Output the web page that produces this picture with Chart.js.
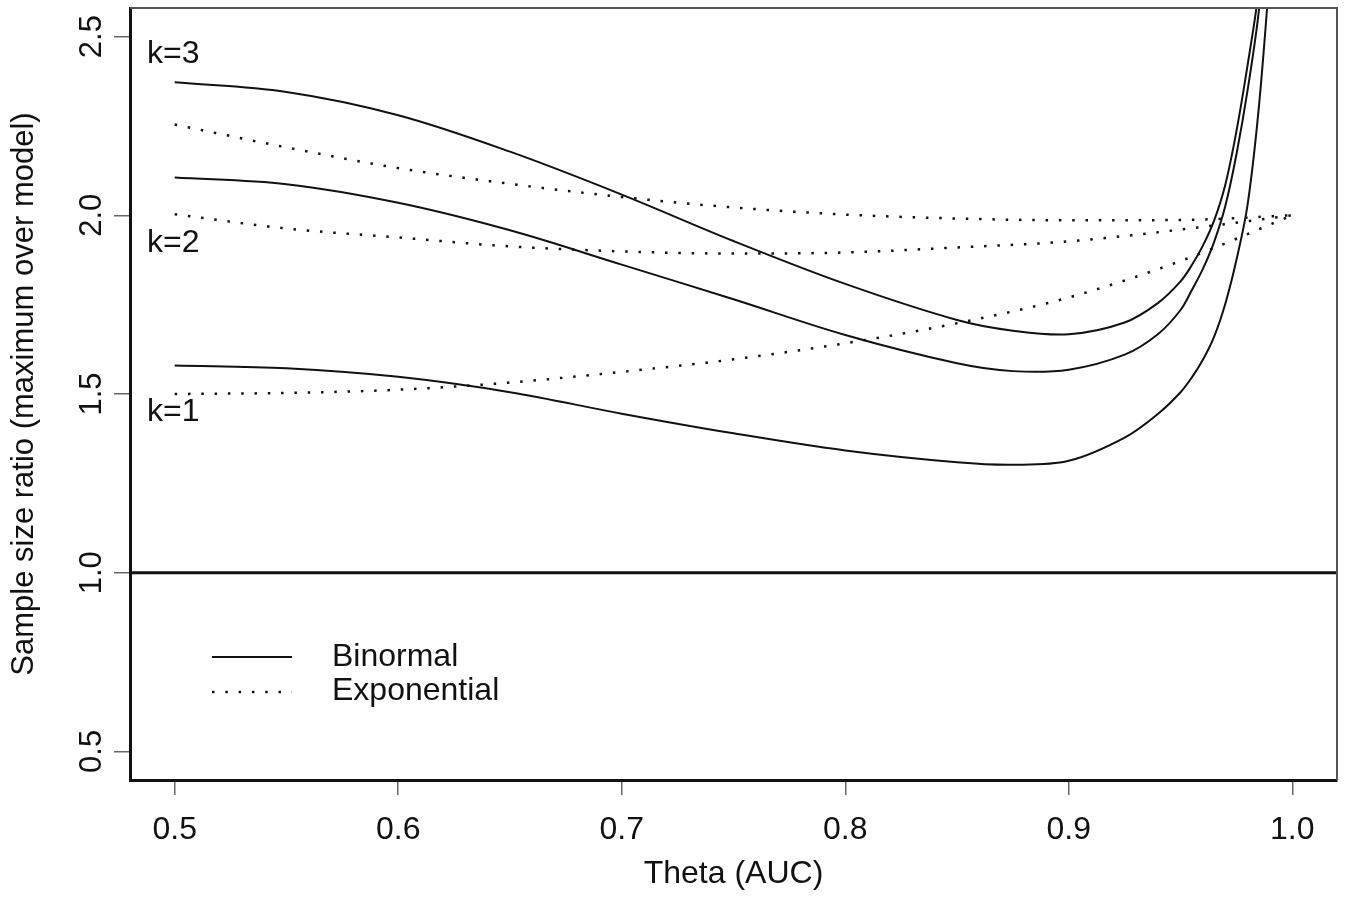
<!DOCTYPE html>
<html>
<head>
<meta charset="utf-8">
<script src="https://cdn.jsdelivr.net/npm/chart.js@4/dist/chart.umd.min.js"></script>
<style>
  html, body { margin: 0; padding: 0; background: #fff; }
  #wrap { width: 1347px; height: 908px; }
</style>
</head>
<body>
<div id="wrap"><canvas id="ratioChart"></canvas></div>
<script>
// Theta (AUC) grid used for the binormal curves
const thetaBinormal = [0.50, 0.55, 0.60, 0.65, 0.70, 0.75, 0.80, 0.85, 0.875, 0.90,
                       0.925, 0.94, 0.95, 0.955, 0.96, 0.965, 0.97, 0.975, 0.98, 0.985, 0.99];
const binormalK3 = [2.372, 2.345, 2.280, 2.178, 2.058, 1.928, 1.808, 1.707, 1.677, 1.667,
                    1.700, 1.755, 1.815, 1.860, 1.915, 1.985, 2.085, 2.235, 2.420, 2.630, 2.950];
const binormalK2 = [2.106, 2.087, 2.035, 1.958, 1.862, 1.765, 1.665, 1.586, 1.564, 1.568,
                    1.610, 1.668, 1.735, 1.790, 1.850, 1.925, 2.025, 2.170, 2.350, 2.570, 2.900];
const binormalK1 = [1.580, 1.572, 1.548, 1.505, 1.445, 1.390, 1.342, 1.309, 1.302, 1.313,
                    1.378, 1.445, 1.505, 1.546, 1.596, 1.660, 1.752, 1.875, 2.030, 2.300, 2.680];

// Theta grid used for the exponential curves
const thetaExponential = [0.50, 0.55, 0.60, 0.65, 0.70, 0.75, 0.80, 0.85, 0.90, 0.95, 1.00];
const exponentialK3 = [2.254, 2.190, 2.132, 2.088, 2.051, 2.022, 2.002, 1.991, 1.986, 1.987, 2.000];
const exponentialK2 = [2.003, 1.963, 1.938, 1.913, 1.899, 1.893, 1.896, 1.910, 1.927, 1.960, 2.000];
const exponentialK1 = [1.500, 1.503, 1.512, 1.532, 1.562, 1.597, 1.642, 1.698, 1.770, 1.872, 2.000];

// reference line (ratio = 1)
const refLevel = [1, 1];

// axis ranges and ticks
const xMin = 0.48, xMax = 1.02;
const yMin = 0.42, yMax = 2.58;
const xTicks = [0.5, 0.6, 0.7, 0.8, 0.9, 1.0];
const yTicks = [0.5, 1.0, 1.5, 2.0, 2.5];

const curveLabels = ['k=3', 'k=2', 'k=1'];
const legendLabels = ['Binormal', 'Exponential'];

const INK = '#111';
const FONT = "'Liberation Sans', Arial, sans-serif";
const DOTS = [2.5, 10.8];

Chart.defaults.font.family = FONT;
Chart.defaults.color = INK;

function toPoints(xs, ys) {
    return xs.map((x, i) => ({ x: x, y: ys[i] }));
}

// smooth bezier through the points, not capped at the plot box (curves leave the top)
function solid(data) {
    return { data: data, borderColor: INK, borderWidth: 2, pointRadius: 0,
             fill: false, tension: 0.35, capBezierPoints: false };
}
function dotted(data) {
    return { data: data, borderColor: INK, borderWidth: 2.5, borderDash: DOTS,
             pointRadius: 0, fill: false, cubicInterpolationMode: 'monotone' };
}

// keep the plot box fixed: no extra padding from the tick labels
function noPadding(s) {
    s.paddingTop = 0;
    s.paddingBottom = 0;
    s.paddingLeft = 0;
    s.paddingRight = 0;
}

// thin top/right frame, like R's box()
const framePlugin = {
    id: 'frame',
    afterDatasetsDraw(chart) {
        const { ctx, chartArea: a } = chart;
        ctx.save();
        ctx.strokeStyle = '#555';
        ctx.lineWidth = 2;
        ctx.beginPath();
        ctx.moveTo(a.left, a.top);
        ctx.lineTo(a.right, a.top);
        ctx.lineTo(a.right, a.bottom);
        ctx.stroke();
        ctx.restore();
    }
};

// k= labels and the legend inside the plot
const notesPlugin = {
    id: 'notes',
    afterDraw(chart) {
        const ctx = chart.ctx;
        ctx.save();
        ctx.fillStyle = INK;
        ctx.font = '32px ' + FONT;
        ctx.textAlign = 'left';
        ctx.textBaseline = 'alphabetic';
        const kY = [63, 252, 421];
        curveLabels.forEach((t, i) => ctx.fillText(t, 147, kY[i]));

        // legend
        ctx.strokeStyle = INK;
        ctx.lineWidth = 2;
        ctx.beginPath();
        ctx.moveTo(212, 657);
        ctx.lineTo(292, 657);
        ctx.stroke();
        ctx.lineWidth = 2.5;
        ctx.setLineDash(DOTS);
        ctx.beginPath();
        ctx.moveTo(212, 692);
        ctx.lineTo(292, 692);
        ctx.stroke();
        ctx.setLineDash([]);
        ctx.fillText(legendLabels[0], 332, 666);
        ctx.fillText(legendLabels[1], 332, 700);
        ctx.restore();
    }
};

const ctx = document.getElementById('ratioChart').getContext('2d');
new Chart(ctx, {
    type: 'line',
    data: {
        datasets: [
            solid(toPoints(thetaBinormal, binormalK3)),
            solid(toPoints(thetaBinormal, binormalK2)),
            solid(toPoints(thetaBinormal, binormalK1)),
            dotted(toPoints(thetaExponential, exponentialK3)),
            dotted(toPoints(thetaExponential, exponentialK2)),
            dotted(toPoints(thetaExponential, exponentialK1)),
            Object.assign(solid(toPoints([xMin, xMax], refLevel)), { borderWidth: 3, tension: 0 })
        ]
    },
    options: {
        responsive: true,
        maintainAspectRatio: false,
        animation: false,
        layout: { padding: { left: 0, top: 8, right: 10, bottom: 0 } },
        plugins: {
            legend: { display: false },
            tooltip: { enabled: false }
        },
        scales: {
            x: {
                type: 'linear',
                min: xMin,
                max: xMax,
                afterBuildTicks: s => { s.ticks = xTicks.map(v => ({ value: v })); },
                afterFit: s => { s.height = 128; noPadding(s); },
                ticks: {
                    callback: v => v.toFixed(1),
                    font: { size: 32 },
                    padding: 16,
                    maxRotation: 0,
                    minRotation: 0,
                    autoSkip: false
                },
                grid: { drawOnChartArea: false, tickLength: 15, color: '#666', lineWidth: 1.5 },
                border: { display: true, color: INK, width: 3 },
                title: {
                    display: true,
                    text: 'Theta (AUC)',
                    font: { size: 32 },
                    padding: { top: 0, bottom: 15 }
                }
            },
            y: {
                type: 'linear',
                min: yMin,
                max: yMax,
                afterBuildTicks: s => { s.ticks = yTicks.map(v => ({ value: v })); },
                afterFit: s => { s.width = 130; noPadding(s); },
                ticks: {
                    callback: v => v.toFixed(1),
                    font: { size: 31 },
                    padding: 0,
                    minRotation: 90,
                    maxRotation: 90,
                    crossAlign: 'center',
                    autoSkip: false
                },
                grid: { drawOnChartArea: false, tickLength: 16, color: '#666', lineWidth: 1.5 },
                border: { display: true, color: INK, width: 3 },
                title: {
                    display: true,
                    text: 'Sample size ratio (maximum over model)',
                    font: { size: 31 },
                    padding: { top: 6, bottom: 0 }
                }
            }
        }
    },
    plugins: [framePlugin, notesPlugin]
});
</script>
</body>
</html>
